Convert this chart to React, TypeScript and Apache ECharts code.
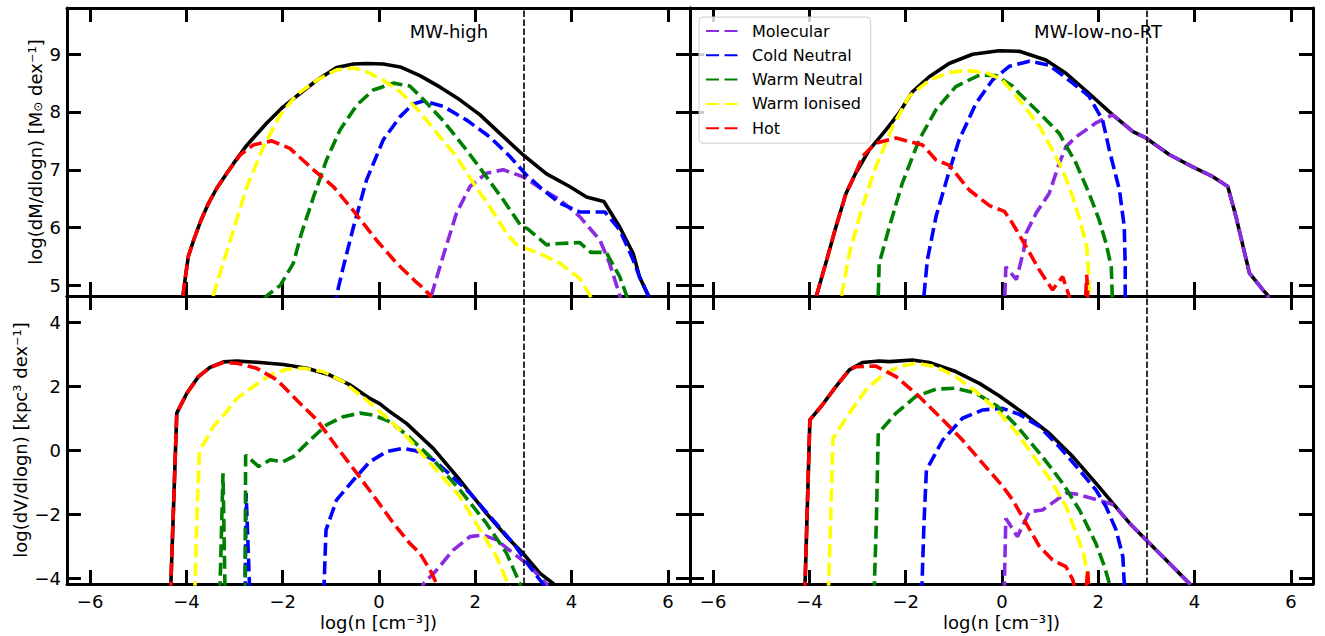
import React, { useEffect, useRef } from 'react';
import * as echarts from 'echarts';

// ---------- axes / labels ----------
const X_TICKS = [-6, -4, -2, 0, 2, 4, 6];
const MASS_TICKS = [5, 6, 7, 8, 9];
const VOL_TICKS = [-4, -2, 0, 2, 4];
const X_RANGE = [-6.48, 6.46];
const MASS_RANGE = [4.815, 9.8];
const VOL_RANGE = [-4.18, 4.82];
const VLINE_X = 3;
const TITLES = ['MW-high', 'MW-low-no-RT'];
const PHASES = ['Molecular', 'Cold Neutral', 'Warm Neutral', 'Warm Ionised', 'Hot'];
const X_NAME = 'log(n [cm⁻³])';
const MASS_NAME = 'log(dM/dlogn) [M{sub|⊙} dex⁻¹]';
const VOL_NAME = 'log(dV/dlogn) [kpc³ dex⁻¹]';

// ---------- MW-high, mass ----------
const highMassTotal = [[-4.10, 4.5], [-4.07, 4.83], [-4.02, 5.15], [-3.96, 5.50], [-3.85, 5.78], [-3.71, 6.10], [-3.54, 6.42], [-3.37, 6.68], [-3.16, 6.94], [-3.02, 7.11], [-2.74, 7.43], [-2.33, 7.81], [-1.99, 8.09], [-1.64, 8.32], [-1.29, 8.55], [-0.88, 8.77], [-0.53, 8.83], [-0.26, 8.84], [0.09, 8.83], [0.44, 8.78], [0.85, 8.63], [1.27, 8.43], [1.68, 8.21], [2.10, 7.95], [2.51, 7.63], [2.99, 7.26], [3.48, 6.93], [3.96, 6.71], [4.31, 6.53], [4.67, 6.45], [5.0, 6.01], [5.28, 5.55], [5.41, 5.15], [5.59, 4.83], [5.65, 4.6]];
const highMassMolecular = [[1.02, 4.5], [1.09, 4.83], [1.33, 5.50], [1.61, 6.25], [1.89, 6.71], [2.23, 6.94], [2.58, 7.0], [2.99, 6.88], [3.41, 6.65], [3.76, 6.48], [4.17, 6.19], [4.59, 5.78], [4.79, 5.38], [5.0, 4.83], [5.05, 4.6]];
const highMassCold = [[-0.92, 4.6], [-0.88, 4.83], [-0.74, 5.32], [-0.53, 6.01], [-0.26, 6.82], [0.09, 7.52], [0.44, 7.92], [0.71, 8.14], [0.92, 8.19], [1.33, 8.10], [1.82, 7.86], [2.30, 7.57], [2.72, 7.23], [3.06, 6.91], [3.41, 6.65], [3.76, 6.42], [4.17, 6.27], [4.69, 6.27], [5.0, 5.96], [5.28, 5.44], [5.41, 5.15], [5.59, 4.83], [5.65, 4.6]];
const highMassWarmNeutral = [[-2.40, 4.75], [-2.30, 4.84], [-2.05, 5.0], [-1.78, 5.38], [-1.61, 5.90], [-1.36, 6.53], [-1.09, 7.17], [-0.81, 7.69], [-0.46, 8.12], [-0.12, 8.38], [0.30, 8.50], [0.64, 8.45], [0.92, 8.22], [1.33, 7.85], [1.82, 7.34], [2.23, 6.88], [2.58, 6.48], [2.93, 6.05], [3.10, 5.97], [3.48, 5.70], [3.65, 5.72], [4.17, 5.74], [4.40, 5.57], [4.72, 5.57], [5.0, 5.15], [5.14, 4.83], [5.2, 4.6]];
const highMassWarmIonised = [[-3.50, 4.5], [-3.44, 4.83], [-3.09, 5.78], [-2.74, 6.71], [-2.40, 7.40], [-2.05, 7.95], [-1.71, 8.30], [-1.29, 8.55], [-0.88, 8.73], [-0.53, 8.76], [-0.26, 8.70], [0.09, 8.55], [0.44, 8.35], [0.85, 8.0], [1.27, 7.57], [1.61, 7.23], [1.96, 6.77], [2.30, 6.36], [2.65, 5.90], [2.86, 5.70], [3.34, 5.55], [3.76, 5.38], [4.17, 5.12], [4.38, 4.83], [4.5, 4.6]];
const highMassHot = [[-4.10, 4.5], [-4.07, 4.83], [-4.02, 5.15], [-3.96, 5.50], [-3.85, 5.78], [-3.71, 6.10], [-3.54, 6.42], [-3.37, 6.68], [-3.16, 6.94], [-2.88, 7.26], [-2.61, 7.43], [-2.23, 7.50], [-1.85, 7.37], [-1.36, 7.0], [-0.95, 6.71], [-0.54, 6.30], [-0.05, 5.78], [0.37, 5.38], [0.78, 5.05], [0.88, 4.98], [1.06, 4.83], [1.15, 4.6]];

// ---------- MW-low-no-RT, mass ----------
const lowMassTotal = [[-3.88, 4.5], [-3.85, 4.83], [-3.66, 5.38], [-3.45, 6.01], [-3.24, 6.59], [-3.04, 6.94], [-2.76, 7.34], [-2.41, 7.69], [-2.14, 7.98], [-1.86, 8.35], [-1.51, 8.61], [-1.10, 8.84], [-0.61, 9.0], [-0.06, 9.06], [0.36, 9.05], [0.91, 8.90], [1.33, 8.67], [1.81, 8.32], [2.30, 7.95], [2.72, 7.66], [2.99, 7.55], [3.48, 7.26], [3.96, 7.05], [4.38, 6.88], [4.69, 6.71], [4.86, 6.19], [5.14, 5.21], [5.42, 4.92], [5.52, 4.83], [5.56, 4.6]];
const lowMassMolecular = [[0.05, 4.5], [0.06, 4.83], [0.08, 5.32], [0.30, 5.10], [0.45, 5.60], [0.50, 5.90], [0.71, 6.25], [0.98, 6.59], [1.19, 7.11], [1.33, 7.40], [1.54, 7.57], [1.95, 7.81], [2.30, 7.95], [2.72, 7.66], [2.99, 7.55], [3.48, 7.26], [3.96, 7.05], [4.38, 6.88], [4.69, 6.71], [4.86, 6.19], [5.14, 5.21], [5.42, 4.92], [5.52, 4.83], [5.56, 4.6]];
const lowMassCold = [[-1.64, 4.5], [-1.62, 4.83], [-1.55, 5.44], [-1.37, 6.19], [-1.13, 6.88], [-0.89, 7.52], [-0.54, 8.15], [-0.20, 8.55], [0.15, 8.79], [0.57, 8.88], [0.98, 8.81], [1.47, 8.50], [1.81, 8.27], [2.09, 7.86], [2.23, 7.34], [2.44, 6.65], [2.54, 6.01], [2.56, 5.32], [2.56, 4.83], [2.56, 4.5]];
const lowMassWarmNeutral = [[-2.58, 4.5], [-2.57, 4.83], [-2.55, 5.38], [-2.34, 6.01], [-2.07, 6.77], [-1.72, 7.52], [-1.37, 8.04], [-0.96, 8.44], [-0.47, 8.64], [-0.12, 8.63], [0.22, 8.45], [0.36, 8.32], [0.78, 7.98], [1.19, 7.63], [1.54, 7.11], [1.81, 6.59], [2.02, 6.13], [2.16, 5.73], [2.27, 5.32], [2.29, 4.83], [2.29, 4.5]];
const lowMassWarmIonised = [[-3.38, 4.5], [-3.33, 4.83], [-3.17, 5.55], [-2.90, 6.36], [-2.62, 7.05], [-2.27, 7.75], [-1.93, 8.27], [-1.51, 8.55], [-1.10, 8.68], [-0.75, 8.72], [-0.33, 8.68], [0.0, 8.56], [0.36, 8.21], [0.78, 7.75], [1.05, 7.34], [1.26, 7.0], [1.47, 6.53], [1.64, 6.07], [1.76, 5.67], [1.80, 5.21], [1.81, 4.83], [1.81, 4.5]];
const lowMassHot = [[-3.88, 4.5], [-3.85, 4.83], [-3.66, 5.38], [-3.45, 6.01], [-3.24, 6.59], [-3.04, 6.94], [-2.90, 7.23], [-2.62, 7.46], [-2.20, 7.55], [-1.93, 7.49], [-1.65, 7.43], [-1.37, 7.17], [-1.10, 7.08], [-0.68, 6.65], [-0.26, 6.38], [0.05, 6.28], [0.22, 6.07], [0.50, 5.67], [0.78, 5.26], [1.05, 4.92], [1.26, 5.15], [1.40, 4.80], [1.48, 4.5], [1.72, 4.5], [1.76, 5.18], [1.80, 4.5]];

// ---------- MW-high, volume ----------
const highVolTotal = [[-4.33, -4.5], [-4.20, 1.16], [-3.99, 1.78], [-3.75, 2.30], [-3.51, 2.59], [-3.23, 2.76], [-2.95, 2.79], [-2.47, 2.74], [-1.99, 2.68], [-1.50, 2.56], [-1.02, 2.35], [-0.60, 2.04], [-0.19, 1.62], [0.02, 1.45], [0.23, 1.20], [0.57, 0.84], [1.13, 0.05], [1.68, -0.93], [2.23, -1.97], [2.65, -2.70], [2.99, -3.22], [3.34, -3.84], [3.63, -4.18], [3.75, -4.5]];
const highVolMolecular = [[0.85, -4.5], [0.92, -4.18], [1.20, -3.74], [1.54, -3.12], [1.89, -2.70], [2.16, -2.65], [2.44, -2.80], [2.79, -3.22], [3.06, -3.53], [3.34, -3.95], [3.48, -4.18], [3.55, -4.5]];
const highVolCold = [[-2.78, -4.5], [-2.76, -1.34], [-2.69, -4.18], [-2.68, -4.5], [-1.15, -4.5], [-1.14, -4.18], [-1.10, -2.49], [-0.88, -1.55], [-0.53, -0.93], [-0.19, -0.36], [0.16, -0.04], [0.50, 0.06], [0.78, -0.02], [1.13, -0.30], [1.47, -0.75], [1.89, -1.34], [2.37, -2.18], [2.79, -2.91], [3.13, -3.64], [3.41, -4.18], [3.5, -4.5]];
const highVolWarmNeutral = [[-3.31, -4.5], [-3.30, -4.18], [-3.24, -0.72], [-3.20, -4.18], [-3.19, -4.5], [-2.80, -4.5], [-2.78, -4.18], [-2.77, -0.15], [-2.50, -0.51], [-2.26, -0.30], [-1.99, -0.36], [-1.78, -0.20], [-1.43, 0.32], [-1.09, 0.79], [-0.74, 1.05], [-0.39, 1.16], [-0.12, 1.10], [0.23, 0.89], [0.60, 0.45], [1.13, -0.30], [1.68, -1.24], [2.23, -2.28], [2.65, -3.22], [2.93, -4.18], [3.0, -4.5]];
const highVolWarmIonised = [[-3.83, -4.5], [-3.82, -4.18], [-3.78, -1.97], [-3.73, -0.04], [-3.44, 0.74], [-3.16, 1.21], [-2.95, 1.62], [-2.61, 1.99], [-2.26, 2.35], [-1.91, 2.53], [-1.57, 2.56], [-1.16, 2.46], [-0.74, 2.14], [-0.26, 1.57], [0.23, 0.93], [0.57, 0.43], [1.13, -0.51], [1.68, -1.45], [2.10, -2.49], [2.44, -3.32], [2.68, -4.18], [2.80, -4.5]];
const highVolHot = [[-4.33, -4.5], [-4.20, 1.16], [-3.99, 1.78], [-3.75, 2.30], [-3.51, 2.59], [-3.23, 2.74], [-2.95, 2.72], [-2.54, 2.56], [-2.12, 2.20], [-1.71, 1.57], [-1.29, 0.95], [-0.88, 0.11], [-0.46, -0.72], [-0.05, -1.55], [0.30, -2.28], [0.64, -2.91], [0.85, -3.22], [1.06, -3.74], [1.16, -4.05], [1.25, -4.5]];

// ---------- MW-low-no-RT, volume ----------
const lowVolTotal = [[-4.10, -4.5], [-4.09, -4.16], [-3.99, 0.95], [-3.73, 1.42], [-3.45, 1.99], [-3.17, 2.51], [-2.90, 2.74], [-2.55, 2.79], [-2.34, 2.77], [-1.86, 2.82], [-1.51, 2.74], [-0.96, 2.46], [-0.47, 2.09], [-0.06, 1.70], [0.50, 1.10], [0.98, 0.53], [1.47, -0.20], [1.95, -1.03], [2.33, -1.71], [2.65, -2.28], [2.99, -2.80], [3.41, -3.43], [3.89, -4.16], [4.0, -4.35]];
const lowVolMolecular = [[0.05, -4.5], [0.05, -4.16], [0.08, -2.13], [0.32, -2.70], [0.57, -1.92], [0.84, -1.87], [1.33, -1.34], [1.54, -1.37], [2.02, -1.57], [2.33, -1.71], [2.65, -2.28], [2.99, -2.80], [3.41, -3.43], [3.89, -4.16], [4.0, -4.35]];
const lowVolCold = [[-1.67, -4.5], [-1.66, -4.16], [-1.62, -2.28], [-1.57, -0.62], [-1.23, 0.32], [-0.82, 1.0], [-0.40, 1.26], [0.01, 1.31], [0.36, 1.12], [0.78, 0.74], [1.19, 0.11], [1.61, -0.62], [1.95, -1.24], [2.16, -1.76], [2.37, -2.49], [2.51, -3.32], [2.54, -4.16], [2.55, -4.5]];
const lowVolWarmNeutral = [[-2.66, -4.5], [-2.65, -4.16], [-2.61, -2.28], [-2.57, 0.53], [-2.20, 1.16], [-1.79, 1.68], [-1.37, 1.91], [-0.96, 1.94], [-0.54, 1.78], [-0.10, 1.38], [0.33, 0.72], [0.84, -0.20], [1.26, -1.03], [1.61, -1.87], [1.95, -2.91], [2.13, -3.64], [2.23, -4.16], [2.26, -4.5]];
const lowVolWarmIonised = [[-3.61, -4.5], [-3.60, -4.16], [-3.56, -2.28], [-3.51, 0.37], [-3.17, 1.16], [-2.83, 1.88], [-2.48, 2.35], [-2.14, 2.61], [-1.79, 2.72], [-1.37, 2.61], [-0.96, 2.30], [-0.54, 1.83], [-0.10, 1.25], [0.33, 0.50], [0.71, -0.30], [1.05, -1.03], [1.33, -1.76], [1.54, -2.59], [1.71, -3.32], [1.80, -4.16], [1.82, -4.5]];
const lowVolHot = [[-4.10, -4.5], [-4.09, -4.16], [-3.99, 0.95], [-3.73, 1.42], [-3.45, 1.99], [-3.17, 2.51], [-3.04, 2.61], [-2.62, 2.63], [-2.20, 2.30], [-1.72, 1.68], [-1.23, 0.95], [-0.82, 0.32], [-0.40, -0.41], [0.0, -1.10], [0.22, -1.55], [0.50, -2.28], [0.78, -3.01], [1.05, -3.43], [1.33, -3.64], [1.47, -4.05], [1.55, -4.5], [1.74, -4.5], [1.78, -3.74], [1.81, -4.5]];

// ---------- assembly ----------
const highMass = [highMassTotal, highMassMolecular, highMassCold, highMassWarmNeutral, highMassWarmIonised, highMassHot];
const lowMass = [lowMassTotal, lowMassMolecular, lowMassCold, lowMassWarmNeutral, lowMassWarmIonised, lowMassHot];
const highVol = [highVolTotal, highVolMolecular, highVolCold, highVolWarmNeutral, highVolWarmIonised, highVolHot];
const lowVol = [lowVolTotal, lowVolMolecular, lowVolCold, lowVolWarmNeutral, lowVolWarmIonised, lowVolHot];

const FONT = 'DejaVu Sans';
const PHASE_COLORS = ['#8a2be2', '#0000ff', '#008000', '#ffff00', '#ff0000'];

const fmt = (v: number) => (v < 0 ? '\u2212' + Math.abs(v) : String(v));

function buildOption() {
  const grids = [
    { left: 67, top: 8, width: 623, height: 288 },
    { left: 690, top: 8, width: 623, height: 288 },
    { left: 67, top: 296, width: 623, height: 288 },
    { left: 690, top: 296, width: 623, height: 288 },
  ];
  const panelData = [highMass, lowMass, highVol, lowVol];
  const panelYRange = [MASS_RANGE, MASS_RANGE, VOL_RANGE, VOL_RANGE];
  const panelYTicks = [MASS_TICKS, MASS_TICKS, VOL_TICKS, VOL_TICKS];
  const panelYName = [MASS_NAME, '', VOL_NAME, ''];
  const panelYNameGap = [23, 0, 38, 0];

  const line = { show: true, onZero: false, lineStyle: { color: '#000', width: 3 } };
  const tick = (vals: number[]) => ({
    show: true, inside: true, length: 14, customValues: vals,
    lineStyle: { color: '#000', width: 3 },
  });
  const label = (show: boolean, vals: number[], margin: number) => ({
    show, customValues: vals, formatter: fmt, fontSize: 18, fontFamily: FONT, color: '#000', margin,
  });

  const xAxis: any[] = [];
  const yAxis: any[] = [];
  const series: any[] = [];

  grids.forEach((_, g) => {
    const bottomRow = g >= 2;
    const leftCol = g % 2 === 0;
    xAxis.push({
      type: 'value', gridIndex: g, position: 'bottom', min: X_RANGE[0], max: X_RANGE[1],
      axisLine: line, axisTick: tick(X_TICKS), axisLabel: label(bottomRow, X_TICKS, 8),
      splitLine: { show: false },
      name: bottomRow ? X_NAME : '', nameLocation: 'middle', nameGap: 29,
      nameTextStyle: { fontSize: 18, fontFamily: FONT, color: '#000' },
    });
    xAxis.push({
      type: 'value', gridIndex: g, position: 'top', min: X_RANGE[0], max: X_RANGE[1],
      axisLine: line, axisTick: tick(X_TICKS), axisLabel: { show: false }, splitLine: { show: false },
    });
    yAxis.push({
      type: 'value', gridIndex: g, position: 'left', min: panelYRange[g][0], max: panelYRange[g][1],
      axisLine: line, axisTick: tick(panelYTicks[g]), axisLabel: label(leftCol, panelYTicks[g], 6),
      splitLine: { show: false },
      name: panelYName[g], nameLocation: 'middle', nameRotate: 90, nameGap: panelYNameGap[g],
      nameTextStyle: {
        fontSize: 18, fontFamily: FONT, color: '#000',
        rich: { sub: { fontSize: 12, fontFamily: FONT, color: '#000', verticalAlign: 'bottom' } },
      },
    });
    yAxis.push({
      type: 'value', gridIndex: g, position: 'right', min: panelYRange[g][0], max: panelYRange[g][1],
      axisLine: line, axisTick: tick(panelYTicks[g]), axisLabel: { show: false }, splitLine: { show: false },
    });

    const [total, ...phases] = panelData[g];
    series.push({
      type: 'line', name: 'Total', xAxisIndex: 2 * g, yAxisIndex: 2 * g, data: total,
      symbol: 'none', showSymbol: false, silent: true, clip: true,
      lineStyle: { color: '#000', width: 3.6 }, itemStyle: { color: '#000' },
      markLine: {
        silent: true, symbol: ['none', 'none'], label: { show: false },
        lineStyle: { color: '#000', width: 1.6, type: [6.5, 2.5] },
        data: [{ xAxis: VLINE_X }],
      },
    });
    phases.forEach((d, i) => {
      series.push({
        type: 'line', name: PHASES[i], xAxisIndex: 2 * g, yAxisIndex: 2 * g, data: d,
        symbol: 'none', showSymbol: false, silent: true, clip: true,
        lineStyle: { color: PHASE_COLORS[i], width: 3.6, type: [13, 5.5] },
        itemStyle: { color: PHASE_COLORS[i] },
      });
    });
  });

  return {
    animation: false,
    backgroundColor: '#fff',
    grid: grids.map((r) => ({ ...r, containLabel: false, outerBoundsMode: 'none' })),
    xAxis,
    yAxis,
    series,
    legend: {
      data: PHASES, orient: 'vertical', left: 699, top: 17,
      itemWidth: 34, itemHeight: 10, itemGap: 6.3,
      padding: [5, 8, 6, 6],
      backgroundColor: 'rgba(255,255,255,0.8)', borderColor: '#cccccc', borderWidth: 1, borderRadius: 4,
      selectedMode: false,
      itemStyle: { opacity: 0 },
      textStyle: { fontSize: 16, fontFamily: FONT, color: '#000', lineHeight: 18, padding: [0, 0, 0, 7] },
    },
    graphic: [
      {
        type: 'text', x: 449, y: 31,
        style: { text: TITLES[0], fontSize: 18, fontFamily: FONT, fill: '#000', align: 'center', verticalAlign: 'middle', textAlign: 'center', textVerticalAlign: 'middle' },
      },
      {
        type: 'text', x: 1098, y: 31,
        style: { text: TITLES[1], fontSize: 18, fontFamily: FONT, fill: '#000', align: 'center', verticalAlign: 'middle', textAlign: 'center', textVerticalAlign: 'middle' },
      },
    ],
  };
}

export default function App() {
  const ref = useRef<HTMLDivElement>(null);
  useEffect(() => {
    const chart = echarts.init(ref.current!, null, { renderer: 'svg' });
    chart.setOption(buildOption() as any);
    return () => chart.dispose();
  }, []);
  return (
    <div
      ref={ref}
      style={{ position: 'fixed', left: 0, top: 0, width: 1325, height: 636, background: '#fff' }}
    />
  );
}
